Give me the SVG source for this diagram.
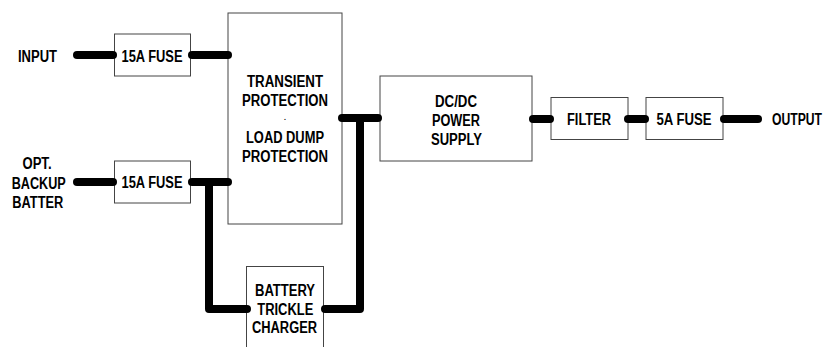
<svg xmlns="http://www.w3.org/2000/svg" width="827" height="347" viewBox="0 0 827 347">
<style>
.box{fill:#fff;stroke:#444;stroke-width:1}
.w{fill:none;stroke:#000;stroke-width:8;stroke-linecap:round;stroke-linejoin:round}
text{font-family:"Liberation Sans",Arial,sans-serif;font-weight:bold;font-size:16px;fill:#000;text-anchor:middle}
</style>
<rect width="827" height="347" fill="#fff"/>
<g id="input-label"><text x="37.5" y="61.5" textLength="39" lengthAdjust="spacingAndGlyphs">INPUT</text></g>
<g id="backup-label">
<text x="37" y="169" textLength="29" lengthAdjust="spacingAndGlyphs">OPT.</text>
<text x="38.7" y="189" textLength="54" lengthAdjust="spacingAndGlyphs">BACKUP</text>
<text x="37.8" y="207.7" textLength="51" lengthAdjust="spacingAndGlyphs">BATTER</text>
</g>
<g id="fuse1"><rect class="box" x="114.5" y="34" width="76" height="42"/><text x="152" y="61.5" textLength="61" lengthAdjust="spacingAndGlyphs">15A FUSE</text></g>
<g id="fuse2"><rect class="box" x="114.5" y="161" width="76" height="42"/><text x="152" y="188.3" textLength="61" lengthAdjust="spacingAndGlyphs">15A FUSE</text></g>
<g id="protection"><rect class="box" x="228" y="13" width="114" height="211"/>
<text x="285" y="87.3" textLength="76" lengthAdjust="spacingAndGlyphs">TRANSIENT</text>
<text x="285" y="106" textLength="86" lengthAdjust="spacingAndGlyphs">PROTECTION</text>
<text x="285" y="119.5" style="font-size:7px">.</text>
<text x="285" y="143.3" textLength="78" lengthAdjust="spacingAndGlyphs">LOAD DUMP</text>
<text x="285" y="162.3" textLength="86" lengthAdjust="spacingAndGlyphs">PROTECTION</text>
</g>
<g id="charger"><rect class="box" x="246.5" y="266.5" width="77" height="100"/>
<text x="285" y="295.7" textLength="60" lengthAdjust="spacingAndGlyphs">BATTERY</text>
<text x="285.3" y="315" textLength="56" lengthAdjust="spacingAndGlyphs">TRICKLE</text>
<text x="284.5" y="333.3" textLength="65" lengthAdjust="spacingAndGlyphs">CHARGER</text>
</g>
<g id="dcdc"><rect class="box" x="380" y="76" width="152" height="85"/>
<text x="456" y="106.7" textLength="42" lengthAdjust="spacingAndGlyphs">DC/DC</text>
<text x="456" y="126" textLength="48" lengthAdjust="spacingAndGlyphs">POWER</text>
<text x="456.5" y="145" textLength="51" lengthAdjust="spacingAndGlyphs">SUPPLY</text>
</g>
<g id="filter"><rect class="box" x="551" y="97.5" width="77" height="42"/><text x="589" y="125" textLength="44" lengthAdjust="spacingAndGlyphs">FILTER</text></g>
<g id="fuse3"><rect class="box" x="646" y="97.5" width="77" height="42"/><text x="684" y="125" textLength="55" lengthAdjust="spacingAndGlyphs">5A FUSE</text></g>
<g id="output-label"><text transform="translate(797,125) scale(0.76,1)" x="0" y="0">OUTPUT</text></g>
<g id="connectors">
<path class="w" d="M77,55 H113"/>
<path class="w" d="M192,55 H228"/>
<path class="w" d="M77,182 H113"/>
<path class="w" d="M192,182 H228"/>
<path class="w" d="M209,182 V309 H247"/>
<path class="w" d="M342,118 H378"/>
<path class="w" d="M360,118 V309 H325"/>
<path class="w" d="M533,119 H550"/>
<path class="w" d="M628,119 H645"/>
<path class="w" d="M724,119 H758"/>
</g>
</svg>
